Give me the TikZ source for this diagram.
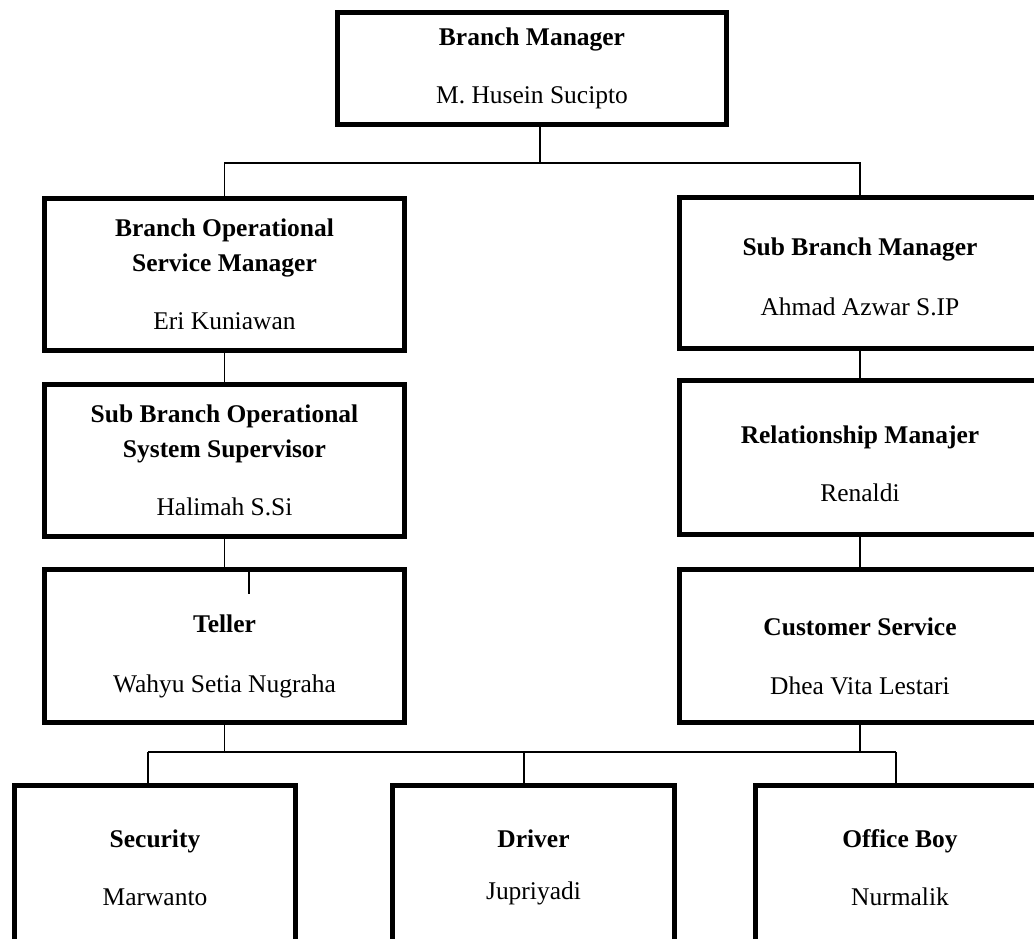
\documentclass[tikz,border=0pt]{standalone}
\usepackage{fontspec}
\setmainfont{Liberation Serif}
\usetikzlibrary{positioning}
\newcommand\sinkby[1]{\rule{0pt}{#1}}

\begin{document}
\begin{tikzpicture}[
    x=.02cm,y=-.02cm,
    post/.style={rectangle,draw=black,line width=.1cm,fill=white,inner sep=0pt,
      align=center,font=\fontsize{14.5}{20}\selectfont},
    wide/.style={post,minimum width=7.2cm},
    rwide/.style={post,minimum width=7.24cm},
    low/.style={post,minimum width=5.64cm,minimum height=3.28cm},
    link/.style={draw=black,line width=.8pt}
  ]
  \useasboundingbox (0,0) rectangle (1034,938);
  \clip (0,0) rectangle (1034,938);

  \node[post,minimum width=7.78cm,minimum height=2.24cm] (bm) at (532,68.5)
    {\textbf{Branch Manager}\\[13pt]M. Husein Sucipto};

  \node[wide,minimum height=3.04cm] (bosm) at (224.5,274.5)
    {\textbf{Branch Operational}\\\textbf{Service Manager}\\[13pt]Eri Kuniawan};
  \node[wide,minimum height=3.04cm] (sbos) at (224.5,460)
    {\textbf{Sub Branch Operational}\\\textbf{System Supervisor}\\[13pt]Halimah S.Si};
  \node[wide,minimum height=3.06cm] (teller) at (224.5,645.5)
    {\sinkby{22.4pt}\textbf{Teller}\\[14pt]Wahyu Setia Nugraha};

  \node[rwide,minimum height=3.04cm] (sbm) at (860,273)
    {\sinkby{14.4pt}\textbf{Sub Branch Manager}\\[14pt]Ahmad Azwar S.IP};
  \node[rwide,minimum height=3.08cm] (rm) at (860,457.5)
    {\sinkby{17.3pt}\textbf{Relationship Manajer}\\[13pt]Renaldi};
  \node[rwide,minimum height=3.06cm] (cs) at (860,645.5)
    {\sinkby{22.4pt}\textbf{Customer Service}\\[14pt]Dhea Vita Lestari};

  \node[low] (sec) at (155,867.5) {\textbf{Security}\\[13pt]Marwanto};
  \node[low] (drv) at (533.5,867.5) {\textbf{Driver}\\[10pt]Jupriyadi};
  \node[low,minimum width=5.8cm] (ob) at (900,867.5) {\textbf{Office Boy}\\[13pt]Nurmalik};

  \coordinate (topbus) at (540,163);
  \draw[link] (bm.south -| topbus) -- (topbus);
  \draw[link] (bosm.north) |- (topbus) -| (sbm.north);

  \foreach \a/\b in {bosm/sbos,sbos/teller,sbm/rm,rm/cs}
    \draw[link] (\a.south) -- (\b.north);
  \coordinate (tick) at (249,568);
  \draw[link] (tick) -- ++(0,26);

  \coordinate (busw) at (148,752);
  \coordinate (busm) at (524,752);
  \coordinate (buse) at (896,752);
  \draw[link] (busw) -- (buse);
  \draw[link] (teller.south) -- (teller.south |- busw);
  \draw[link] (cs.south) -- (cs.south |- busw);
  \foreach \c/\n in {busw/sec,busm/drv,buse/ob}
    \draw[link] (\c) -- (\c |- \n.north);
\end{tikzpicture}
\end{document}
